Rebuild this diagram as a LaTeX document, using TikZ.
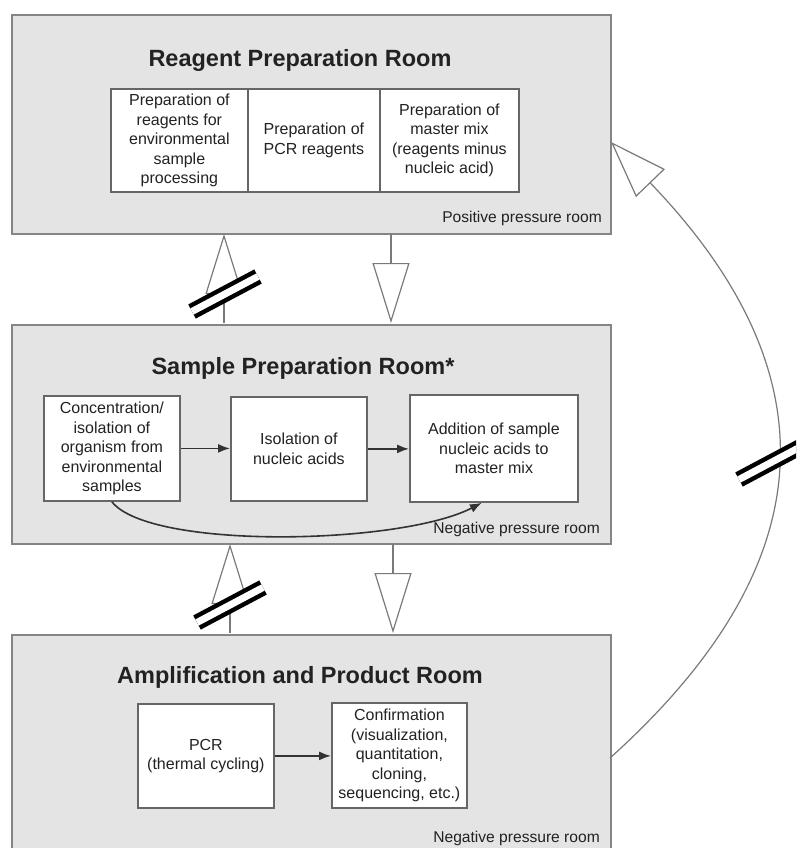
\documentclass[tikz,border=0pt]{standalone}
\usepackage{fontspec}
\setmainfont{Liberation Sans}
\usetikzlibrary{arrows.meta}
\definecolor{roomfill}{HTML}{E4E4E4}
\definecolor{roomline}{HTML}{858585}
\definecolor{boxline}{HTML}{666666}
\definecolor{conn}{HTML}{7A7A7A}
\definecolor{txt}{HTML}{222222}
\begin{document}
\begin{tikzpicture}[x=1pt,y=-1pt,
 room/.style={draw=roomline, fill=roomfill, line width=2pt, rectangle, anchor=north west, inner sep=0pt},
 title/.style={font=\fontsize{23.5}{28}\selectfont\bfseries, text=txt},
 box/.style={draw=boxline, fill=white, line width=1.8pt, rectangle, anchor=north west, inner sep=0pt, align=center, font=\fontsize{16}{19.5}\selectfont, text=txt},
 press/.style={font=\fontsize{15.6}{18}\selectfont, text=txt, anchor=east, inner sep=0pt},
 flow/.style={draw=black!80, line width=1.6pt, -{Latex[length=12pt,width=9pt]}},
 big/.style={draw=conn, line width=1.2pt, -{Triangle[open,length=60pt,width=37pt]}},
 brk/.style={line width=4.5pt, double=white, double distance=7pt, draw=black},
]
\useasboundingbox (0,0) rectangle (796,848);
\clip (0,0) rectangle (796,848);
\fill[white] (0,0) rectangle (796,848);

% rooms
\node[room, minimum width=599, minimum height=219] (topr) at (11,14) {};
\node[room, minimum width=599, minimum height=219] (midr) at (11,324) {};
\node[room, minimum width=599, minimum height=240] (botr) at (11,634) {};

% titles
\node[title] (t1) at (300,60) {Reagent Preparation Room};
\node[title] (t2) at (303,368) {Sample Preparation Room*};
\node[title] (t3) at (300,677) {Amplification and Product Room};

% top room cells
\node[box, minimum width=137, minimum height=103] (c1) at (110,88) {Preparation of\\reagents for\\environmental\\sample\\processing};
\node[box, minimum width=132, minimum height=103] (c2) at (247,88) {Preparation of\\PCR reagents};
\node[box, minimum width=139, minimum height=103] (c3) at (379,88) {Preparation of\\master mix\\(reagents minus\\nucleic acid)};

% middle room boxes
\node[box, minimum width=136, minimum height=105] (a) at (43,395) {Concentration/\\isolation of\\organism from\\environmental\\samples};
\node[box, minimum width=136, minimum height=104] (b) at (230,396) {Isolation of\\nucleic acids};
\node[box, minimum width=168, minimum height=107] (c) at (409,394) {Addition of sample\\nucleic acids to\\master mix};
\draw[flow] (a.east) -- (b.west |- a.east);
\draw[flow] (b.east) -- (c.west |- b.east);
\draw[flow] (a.south) .. controls (150,550) and (400,545) .. ([xshift=-12pt]c.south);

% bottom room boxes
\node[box, minimum width=136, minimum height=104] (pcr) at (137,703) {PCR\\(thermal cycling)};
\node[box, minimum width=135, minimum height=105] (conf) at (331,702) {Confirmation\\(visualization,\\quantitation,\\cloning,\\sequencing, etc.)};
\draw[flow] (pcr.east) -- (conf.west |- pcr.east);

% pressure labels
\node[press] (p1) at (602,218) {Positive pressure room};
\node[press] (p2) at (600,529) {Negative pressure room};
\node[press] (p3) at (600,838) {Negative pressure room};

% inter-room connectors
\coordinate (u1s) at (224,323); \coordinate (u1e) at (224,234);
\coordinate (d1s) at (391,234); \coordinate (d1e) at (391,323);
\coordinate (u2s) at (230,633); \coordinate (u2e) at (230,544);
\coordinate (d2s) at (393,544); \coordinate (d2e) at (393,633);
\draw[big] (u1s) -- (u1e);
\draw[big] (d1s) -- (d1e);
\draw[big] (u2s) -- (u2e);
\draw[big] (d2s) -- (d2e);

\coordinate (rs) at (610,758); \coordinate (re) at (611,142);
\draw[draw=conn, line width=1.2pt, -{Triangle[open,length=57pt,width=40pt]}] (rs) .. controls (830,560) and (830,370) .. (re);

% break marks
\draw[brk] (225,294) ++(-33,17.5) -- ++(66,-35);
\draw[brk] (230,605) ++(-33,17.5) -- ++(66,-35);
\draw[brk] (772,462) ++(-33,17.5) -- ++(80,-42.5);
\end{tikzpicture}
\end{document}
